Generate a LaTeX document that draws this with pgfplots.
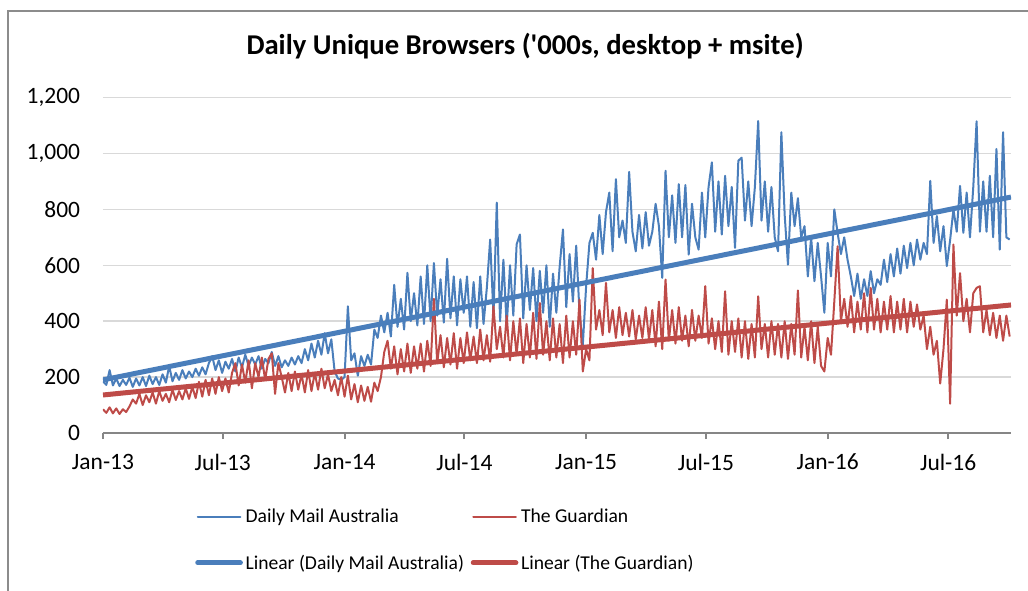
\documentclass[border=0pt]{standalone}
\usepackage{fontspec}
\setmainfont{Carlito}
\usepackage{pgfplots}
\usepackage{pgfplotstable}
\pgfplotsset{compat=1.18}
\definecolor{dmablue}{HTML}{4A7EBB}
\definecolor{grdred}{HTML}{BE4B48}
\definecolor{gridgray}{HTML}{D9D9D9}
\definecolor{axisgray}{HTML}{868686}
\definecolor{framegray}{HTML}{8C8C8C}

% day (from 1 Jan 2013), Daily Mail Australia, The Guardian ('000s)
\pgfplotstableread{
day dma grd
0 185 85
5 172 72
10 225 92
15 170 70
20 195 88
25 168 68
30 190 85
35 172 75
40 198 95
45 165 120
50 195 105
55 170 140
60 200 100
65 168 135
70 205 110
75 175 145
80 200 105
85 172 150
90 210 115
95 180 140
100 240 110
105 185 155
110 215 118
115 190 150
120 225 120
125 195 160
130 220 122
135 200 165
140 230 125
145 205 183
150 235 130
155 210 190
160 250 135
165 275 195
170 225 140
175 260 200
180 215 150
185 255 195
190 230 145
195 265 215
200 220 250
205 270 170
210 235 245
215 280 180
220 240 260
225 270 160
230 245 250
235 275 200
240 230 270
245 265 190
250 250 265
255 290 285
260 240 140
265 275 250
270 235 200
275 260 145
280 240 215
285 270 150
290 245 220
295 275 155
300 250 210
305 300 145
310 260 225
315 320 150
320 270 215
325 330 155
330 280 230
335 357 160
340 285 210
345 335 150
350 220 190
355 195 135
360 190 200
365 200 130
370 453 205
375 260 120
380 285 175
385 205 110
390 275 170
395 240 115
400 280 165
405 245 112
410 370 180
415 340 150
420 420 200
425 360 290
430 430 330
435 345 230
440 530 310
445 380 210
450 480 300
455 370 220
460 573 320
465 400 215
470 500 310
475 385 230
480 560 320
485 390 220
490 600 330
495 400 240
500 608 480
505 420 250
510 550 350
515 395 235
520 623 340
525 410 245
530 560 357
535 385 230
540 550 340
545 430 250
550 560 360
555 380 260
560 540 345
565 375 250
570 560 370
575 390 260
580 520 350
585 692 255
590 420 453
595 824 300
600 400 380
605 620 270
610 380 420
615 600 260
620 420 400
625 675 280
630 710 410
635 410 250
640 600 390
645 440 270
650 590 430
655 400 265
660 580 465
665 430 280
670 600 400
675 380 260
680 570 410
685 430 270
690 595 390
695 728 250
700 450 420
705 640 270
710 470 400
715 670 280
720 430 477
725 315 220
730 525 300
735 680 260
740 716 590
745 620 370
750 780 440
755 640 350
760 790 537
765 860 360
770 650 440
775 908 340
780 700 450
785 760 350
790 680 430
795 934 345
800 720 440
805 650 335
810 780 420
815 660 340
820 790 450
825 670 335
830 720 440
835 820 310
840 740 470
845 555 300
850 938 549
855 700 330
860 850 440
865 680 320
870 890 450
875 700 330
880 887 420
885 638 310
890 820 440
895 700 330
900 656 420
905 860 340
910 700 525
915 880 320
920 968 410
925 720 300
930 900 400
935 710 290
940 920 507
945 740 280
950 880 400
955 662 290
960 974 410
965 985 270
970 760 400
975 900 265
980 740 390
985 880 270
990 1116 489
995 760 300
1000 900 390
1005 720 270
1010 880 400
1015 700 280
1020 650 390
1025 1076 270
1030 780 400
1035 602 265
1040 860 390
1045 740 280
1050 840 510
1055 700 270
1060 740 380
1065 560 260
1070 700 400
1075 543 250
1080 680 380
1085 560 240
1090 430 220
1095 680 340
1100 560 280
1105 800 470
1110 716 668
1115 640 400
1120 700 480
1125 620 380
1130 560 490
1135 490 360
1140 570 470
1145 480 370
1150 550 500
1155 490 360
1160 579 519
1165 500 370
1170 550 480
1175 530 360
1180 620 470
1185 540 370
1190 640 490
1195 560 360
1200 660 470
1205 570 370
1210 670 480
1215 590 360
1220 680 470
1225 600 380
1230 692 460
1235 620 370
1240 680 420
1245 640 300
1250 902 380
1255 680 280
1260 776 330
1265 650 177
1270 740 300
1275 597 477
1280 690 105
1285 800 674
1290 720 420
1295 884 572
1300 716 400
1305 860 480
1310 700 360
1315 880 500
1320 1115 519
1325 720 525
1330 900 360
1335 720 440
1340 920 350
1345 700 430
1350 1016 340
1355 656 420
1360 1076 330
1365 700 420
1370 692 345
}\datatable

\begin{document}
\begin{tikzpicture}
\begin{axis}[
  scale only axis,
  width=681pt, height=251.6pt,
  xmin=0, xmax=1372,
  ymin=0, ymax=1200,
  separate axis lines,
  axis x line*=bottom,
  axis y line*=left,
  x axis line style={axisgray, line width=1.5pt, -},
  y axis line style={draw=none},
  xtick={0,181,365,546,730,911,1095,1277},
  xticklabels={Jan-13,Jul-13,Jan-14,Jul-14,Jan-15,Jul-15,Jan-16,Jul-16},
  xtick align=outside,
  major tick length=4.5pt,
  xtick style={axisgray, line width=1.5pt},
  xticklabel style={font=\fontsize{17.6}{20}\selectfont, inner sep=0pt, anchor=north, yshift=-11pt},
  ytick={0,200,...,1200},
  ymajorgrids,
  grid style={gridgray, line width=1.1pt},
  ytick style={draw=none},
  yticklabel style={font=\fontsize{17.6}{20}\selectfont, inner sep=0pt, anchor=east, xshift=-17pt},
  /pgf/number format/assume math mode=true,
  /pgf/number format/1000 sep={,},
  title={Daily Unique Browsers (\textquotesingle000s, desktop + msite)},
  title style={at={(0.4648,1.1058)}, anchor=base, inner sep=0pt,
    font=\bfseries\fontsize{21.5}{24}\selectfont},
  legend columns=2,
  legend cell align=left,
  legend style={at={(0.1013,-0.218)}, anchor=north west, draw=none, fill=none,
    inner sep=0pt, font=\fontsize{14.7}{17}\selectfont,
    nodes={inner sep=2pt},
    /tikz/every even column/.append style={column sep=3pt},
    row sep=18.5pt},
  legend image code/.code={\draw[#1, line cap=round] (0pt,0pt) -- (32pt,0pt);},
  line join=round,
]
\coordinate (sw) at (rel axis cs:0,0);
\addplot[dmablue, line width=1.5pt] table[x=day, y=dma] {\datatable};
\addplot[grdred, line width=1.5pt] table[x=day, y=grd] {\datatable};
\addplot[dmablue, line width=3.75pt] coordinates {(0,190) (1372,844)};
\addplot[grdred, line width=3.75pt] coordinates {(0,136) (1372,458)};
\legend{Daily Mail Australia, The Guardian, Linear (Daily Mail Australia), Linear (The Guardian)}
\end{axis}
\draw[framegray, line width=1.5pt] ([shift={(-71.25pt,-120pt)}]sw) -- ([shift={(-71.25pt,316.5pt)}]sw) -- ([shift={(700pt,316.5pt)}]sw);
\pgfresetboundingbox
\path ([shift={(-77.25pt,-117.75pt)}]sw) rectangle ([shift={(693.75pt,324.75pt)}]sw);
\end{tikzpicture}
\end{document}
